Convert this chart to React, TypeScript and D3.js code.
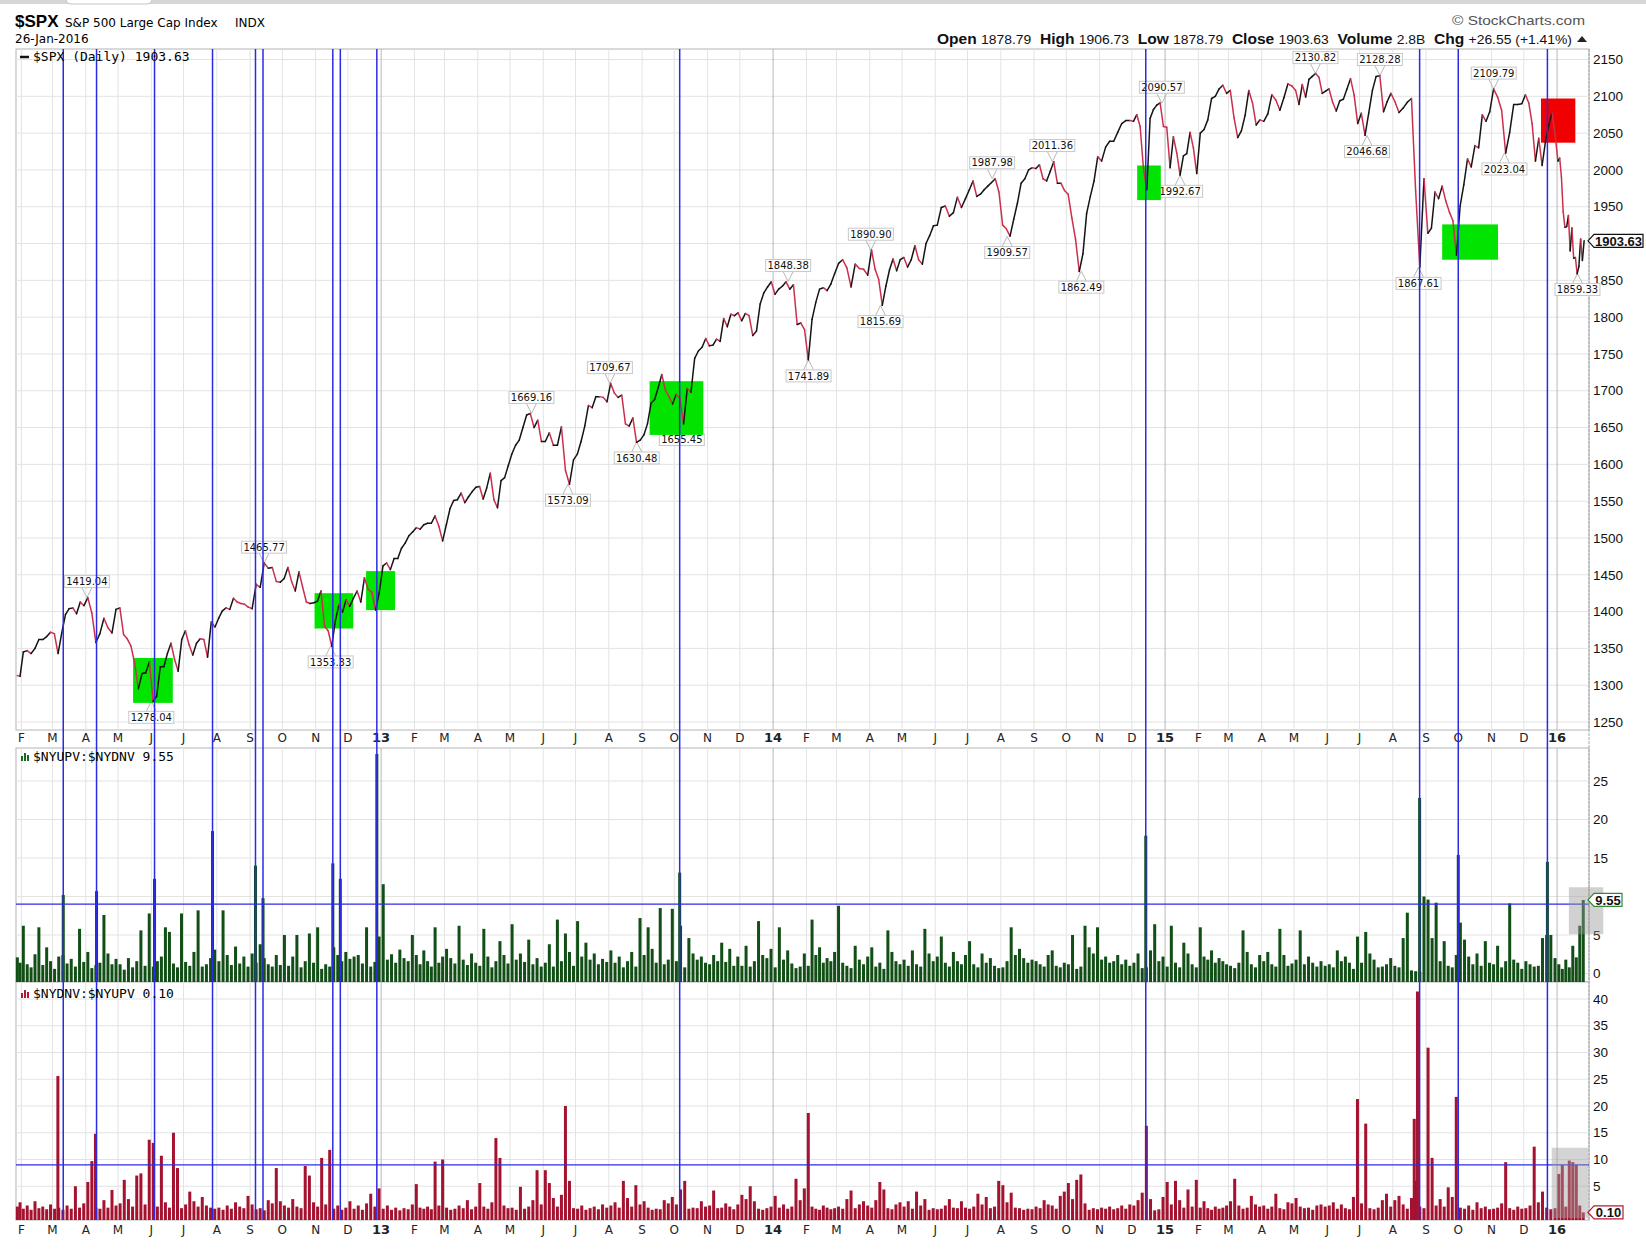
import React, { useEffect, useRef } from 'react';
import * as d3 from 'd3';

const DATA_START = new Date(2012, 0, 27);
const DATA_END = new Date(2016, 0, 27);

// $SPX closes, roughly twice a week, one inner array per calendar month (Jan..Dec)
const spx2012 = [
  [1313, 1312],
  [1345, 1347, 1343, 1350, 1362, 1362, 1366, 1372],
  [1370, 1343, 1371, 1396, 1404, 1405, 1397, 1413, 1408],
  [1419, 1398, 1358, 1370, 1391, 1378, 1371, 1403],
  [1405, 1369, 1363, 1353, 1330, 1295, 1316, 1317, 1332],
  [1278, 1285, 1325, 1325, 1343, 1357, 1335, 1319, 1362],
  [1374, 1355, 1341, 1357, 1363, 1362, 1338, 1386, 1379],
  [1391, 1401, 1405, 1403, 1418, 1413, 1411, 1410, 1406],
  [1404, 1437, 1433, 1466, 1459, 1460, 1441, 1440],
  [1445, 1460, 1441, 1428, 1454, 1433, 1413, 1411, 1412],
  [1414, 1428, 1380, 1374, 1353, 1387, 1409, 1399, 1416],
  [1407, 1418, 1428, 1413, 1446, 1430, 1426, 1402, 1426],
];
const spx2013 = [
  [1462, 1466, 1457, 1472, 1472, 1486, 1493, 1503, 1508],
  [1514, 1512, 1518, 1520, 1520, 1530, 1516, 1496],
  [1518, 1540, 1551, 1552, 1561, 1548, 1556, 1563, 1569],
  [1570, 1553, 1568, 1588, 1552, 1541, 1578, 1582, 1598],
  [1614, 1626, 1633, 1650, 1667, 1669, 1650, 1660, 1631],
  [1631, 1643, 1626, 1626, 1651, 1592, 1573, 1606],
  [1614, 1631, 1652, 1680, 1677, 1692, 1692, 1691, 1685],
  [1710, 1697, 1691, 1694, 1655, 1652, 1663, 1630, 1633],
  [1640, 1655, 1683, 1688, 1704, 1722, 1701, 1692, 1682],
  [1695, 1690, 1655, 1703, 1698, 1744, 1754, 1759, 1771],
  [1761, 1762, 1770, 1767, 1798, 1787, 1804, 1802, 1806],
  [1795, 1805, 1802, 1775, 1781, 1818, 1833, 1841, 1848],
];
const spx2014 = [
  [1831, 1838, 1842, 1848, 1838, 1844, 1790, 1792, 1783],
  [1742, 1797, 1820, 1838, 1840, 1836, 1845, 1859],
  [1873, 1878, 1867, 1841, 1872, 1866, 1865, 1857],
  [1891, 1865, 1851, 1816, 1842, 1864, 1879, 1863, 1878],
  [1881, 1868, 1878, 1897, 1878, 1872, 1900, 1911, 1924],
  [1925, 1949, 1951, 1937, 1942, 1963, 1949, 1961],
  [1973, 1985, 1964, 1967, 1973, 1978, 1983, 1988, 1970],
  [1925, 1920, 1910, 1933, 1955, 1982, 1988, 2000, 2003],
  [2002, 2007, 1988, 1985, 1998, 2011, 1982, 1982, 1972],
  [1967, 1935, 1906, 1862, 1886, 1941, 1964, 1985, 2018],
  [2012, 2031, 2039, 2039, 2051, 2063, 2067, 2067],
  [2066, 2075, 2059, 2002, 1973, 2070, 2082, 2088, 2091, 2059],
];
const spx2015 = [
  [2058, 2003, 2045, 2023, 1993, 2019, 2022, 2051, 2030, 1995],
  [2050, 2055, 2068, 2097, 2100, 2110, 2115, 2104],
  [2108, 2071, 2044, 2053, 2074, 2108, 2091, 2061, 2068],
  [2066, 2076, 2102, 2095, 2081, 2098, 2117, 2114],
  [2108, 2089, 2116, 2099, 2123, 2127, 2131, 2126, 2104, 2107],
  [2110, 2092, 2080, 2094, 2096, 2110, 2124, 2102, 2063],
  [2077, 2047, 2077, 2108, 2127, 2128, 2079, 2093, 2104],
  [2093, 2078, 2084, 2092, 2097, 1971, 1868, 1988],
  [1914, 1921, 1970, 1961, 1978, 1958, 1943, 1931, 1884],
  [1951, 1980, 2015, 2004, 2033, 2030, 2075, 2066, 2079],
  [2110, 2099, 2081, 2023, 2051, 2089, 2089, 2090],
  [2102, 2091, 2063, 2012, 2043, 2006, 2038, 2061, 2078, 2044],
];
const spx2016 = [
  [2012, 2016, 1990, 1943, 1922, 1923, 1938, 1890, 1921, 1880, 1881, 1859, 1869, 1906, 1877, 1903.63],
];

// $NYUPV:$NYDNV ratio, ~8 readings per month
const upRatio2012 = [
  [2.1, 1.4],
  [6.2, 1.2, 0.8, 2.5, 6.0, 1.1, 3.4, 1.6],
  [0.6, 2.2, 2.4, 1.3, 1.9, 0.9, 5.8, 1.5],
  [2.8, 0.7, 1.1, 1.4, 7.6, 2.6, 1.2, 1.9],
  [1.2, 0.5, 2.0, 0.8, 1.6, 5.6, 1.0, 7.8],
  [0.9, 1.6, 2.2, 6.0, 5.4, 1.3, 0.8, 7.8],
  [1.5, 1.0, 2.8, 8.2, 0.9, 1.2, 2.0, 3.1],
  [1.6, 8.2, 2.4, 1.1, 3.5, 1.3, 2.2, 0.9],
  [2.6, 1.4, 3.8, 2.0, 1.2, 0.9, 2.4, 1.1],
  [5.0, 1.0, 2.2, 5.0, 0.8, 1.6, 5.2, 1.4],
  [6.0, 0.6, 1.2, 0.9, 3.4, 2.4, 1.6, 2.8],
  [1.9, 2.2, 2.4, 1.3, 6.0, 0.9, 1.5, 4.8],
];
const upRatio2013 = [
  [11.6, 1.8, 2.5, 1.4, 3.1, 2.0, 1.6, 5.0],
  [2.4, 1.2, 3.0, 1.6, 0.9, 6.0, 1.4, 2.2],
  [3.2, 2.0, 1.3, 6.2, 1.8, 1.1, 2.6, 1.4],
  [1.0, 5.8, 2.2, 0.8, 1.6, 4.2, 2.4, 1.3],
  [6.4, 1.8, 2.6, 1.5, 4.4, 1.2, 2.0, 0.9],
  [1.4, 3.8, 0.9, 7.0, 1.6, 5.2, 2.8, 1.0],
  [6.8, 2.2, 4.0, 1.8, 2.6, 1.2, 1.9, 1.5],
  [3.0, 1.4, 2.2, 0.8, 1.6, 2.8, 0.9, 7.2],
  [2.4, 6.0, 3.2, 1.4, 8.5, 1.2, 1.8, 8.4],
  [1.6, 6.2, 0.8, 4.6, 2.6, 1.8, 2.2, 1.4],
  [1.2, 2.4, 1.6, 4.0, 1.5, 3.2, 1.0, 2.2],
  [1.0, 3.6, 0.9, 1.6, 6.8, 2.4, 2.0, 3.2],
];
const upRatio2014 = [
  [0.8, 6.0, 1.8, 3.0, 1.3, 0.7, 0.9, 2.6],
  [1.0, 7.0, 2.4, 3.4, 1.4, 2.0, 1.6, 2.8],
  [8.8, 1.4, 1.0, 0.7, 3.6, 1.8, 1.2, 2.2],
  [3.4, 0.9, 1.4, 0.6, 5.6, 2.8, 1.6, 1.2],
  [1.8, 1.0, 3.0, 1.2, 0.9, 5.8, 2.6, 1.6],
  [2.2, 4.8, 1.4, 0.9, 2.8, 1.6, 1.2, 2.4],
  [4.2, 1.2, 0.8, 2.6, 1.4, 2.0, 1.0, 0.7],
  [0.8, 1.6, 6.0, 2.4, 3.2, 2.0, 1.4, 1.8],
  [1.6, 1.2, 0.9, 2.4, 3.0, 1.0, 0.8, 1.4],
  [1.2, 5.0, 0.6, 0.9, 6.2, 3.4, 2.6, 6.0],
  [1.8, 2.2, 1.4, 1.6, 2.4, 1.2, 1.8, 1.0],
  [1.4, 2.6, 0.7, 0.8, 3.0, 6.4, 1.6, 2.2],
];
const upRatio2015 = [
  [0.9, 6.2, 1.4, 0.8, 4.0, 2.6, 1.2, 0.8],
  [6.0, 2.2, 1.8, 3.0, 1.4, 2.0, 1.6, 1.2],
  [1.0, 0.7, 1.4, 5.6, 2.8, 1.2, 0.8, 2.4],
  [1.6, 2.8, 1.2, 0.9, 5.8, 2.4, 1.0, 1.3],
  [1.8, 5.6, 1.2, 2.2, 1.4, 0.9, 1.6, 1.0],
  [1.2, 0.8, 3.0, 1.6, 2.2, 1.4, 0.6, 4.8],
  [1.4, 5.4, 2.6, 1.8, 0.8, 0.9, 1.2, 2.0],
  [1.0, 0.8, 4.6, 7.9, 0.4, 0.3, 0.2, 10.0],
  [9.6, 4.6, 9.2, 1.6, 4.2, 1.0, 0.8, 2.4],
  [6.6, 4.4, 2.2, 1.2, 2.6, 1.0, 4.2, 1.4],
  [1.2, 3.6, 0.8, 1.6, 9.1, 1.8, 1.4, 0.6],
  [1.6, 1.2, 0.9, 1.0, 4.6, 5.0, 5.0, 2.0],
];
const upRatio2016 = [[1.2, 0.6, 1.8, 0.8, 3.6, 2.1, 6.2, 9.55]];

// $NYDNV:$NYUPV ratio, ~8 readings per month
const downRatio2012 = [
  [1.2, 2.0],
  [0.8, 1.4, 0.6, 2.2, 0.9, 1.2, 0.7, 1.6],
  [0.8, 1.0, 0.6, 1.4, 0.8, 5.0, 1.0, 1.8],
  [5.8, 9.7, 1.0, 0.8, 2.4, 1.0, 4.3, 1.4],
  [1.8, 6.2, 2.6, 1.2, 7.0, 7.4, 1.6, 13.7],
  [13.1, 1.2, 10.7, 2.0, 1.0, 15.0, 8.4, 0.9],
  [1.6, 4.0, 2.2, 1.2, 3.0, 1.4, 1.0, 0.8],
  [1.0, 0.6, 1.4, 0.8, 2.0, 1.2, 0.9, 3.2],
  [1.6, 0.7, 0.9, 0.5, 2.4, 1.8, 8.4, 2.2],
  [1.4, 1.0, 2.6, 1.2, 0.9, 8.8, 7.0, 2.0],
  [1.2, 10.3, 1.6, 11.8, 0.8, 1.4, 0.6, 1.0],
  [2.2, 0.8, 1.4, 0.6, 1.8, 3.6, 1.2, 4.6],
];
const downRatio2013 = [
  [0.8, 1.4, 0.6, 1.0, 0.5, 0.9, 0.7, 1.6],
  [5.4, 1.0, 0.8, 1.2, 0.7, 9.6, 1.4, 10.0],
  [1.0, 0.6, 0.8, 1.4, 0.9, 2.4, 0.7, 1.2],
  [5.6, 1.2, 0.8, 2.0, 14.0, 10.3, 1.4, 0.9],
  [1.0, 0.6, 4.9, 0.8, 1.2, 2.4, 8.0, 1.6],
  [8.0, 5.6, 2.8, 1.2, 3.4, 20.0, 6.0, 0.9],
  [0.8, 1.4, 0.6, 0.9, 1.2, 0.7, 1.6, 1.0],
  [1.4, 2.0, 1.0, 6.0, 2.8, 1.2, 5.2, 1.6],
  [2.2, 1.0, 0.6, 0.8, 0.7, 2.4, 1.8, 3.0],
  [1.6, 4.4, 6.0, 0.8, 1.0, 0.9, 2.2, 1.2],
  [1.4, 4.2, 0.9, 1.0, 1.8, 1.2, 0.7, 1.6],
  [3.4, 2.6, 5.0, 2.2, 0.8, 0.6, 0.9, 1.2],
];
const downRatio2014 = [
  [3.2, 1.0, 1.6, 0.8, 1.2, 6.4, 2.4, 4.6],
  [18.7, 1.2, 0.8, 0.6, 1.4, 1.0, 0.7, 0.9],
  [1.2, 0.8, 2.6, 4.2, 0.9, 1.6, 2.2, 1.4],
  [1.0, 2.4, 5.8, 4.4, 0.9, 0.7, 1.6, 2.0],
  [1.2, 2.2, 0.8, 4.0, 1.4, 2.6, 0.6, 0.9],
  [0.7, 0.8, 1.4, 2.6, 1.0, 0.9, 2.2, 1.0],
  [0.8, 1.2, 3.6, 1.6, 3.0, 0.9, 1.2, 6.0],
  [5.2, 2.0, 3.8, 1.0, 0.9, 0.6, 0.8, 0.7],
  [1.2, 0.9, 2.4, 1.6, 1.4, 0.8, 3.2, 4.0],
  [5.6, 2.6, 6.2, 7.2, 1.8, 0.6, 0.9, 0.7],
  [1.0, 0.8, 1.2, 0.7, 0.9, 1.4, 0.8, 1.6],
  [1.4, 2.4, 3.8, 16.3, 2.6, 0.5, 0.7, 3.0],
];
const downRatio2015 = [
  [5.8, 1.6, 6.0, 2.4, 1.0, 4.4, 1.2, 6.2],
  [1.0, 2.2, 0.9, 0.6, 1.2, 0.8, 1.0, 1.4],
  [2.2, 6.4, 1.4, 0.8, 1.0, 3.2, 1.6, 1.2],
  [1.4, 0.8, 1.2, 3.6, 0.9, 0.7, 2.0, 1.8],
  [2.8, 1.2, 0.9, 1.0, 0.6, 1.4, 1.6, 1.2],
  [1.4, 2.0, 0.8, 1.6, 0.9, 0.7, 3.0, 21.3],
  [1.8, 16.7, 0.9, 0.7, 1.0, 2.4, 3.6, 1.2],
  [2.4, 3.2, 1.6, 0.8, 2.8, 6.0, 1.2, 0.9],
  [30.9, 10.3, 1.4, 2.6, 1.2, 4.8, 3.0, 21.7],
  [1.0, 0.8, 1.4, 0.6, 2.0, 0.9, 1.2, 0.7],
  [0.8, 1.0, 1.8, 9.5, 0.9, 0.6, 1.2, 0.8],
  [0.9, 1.4, 12.4, 2.0, 4.0, 1.0, 0.7, 0.9],
];
const downRatio2016 = [[7.3, 9.0, 1.2, 9.8, 9.5, 9.0, 1.4, 0.1]];

// signal days (blue verticals) and their up/down volume ratio readings
const signalDates = ['2012-03-11', '2012-04-11', '2012-06-04', '2012-07-28', '2012-09-06', '2012-09-13', '2012-11-17', '2012-11-24', '2012-12-28', '2013-10-06', '2014-12-14', '2015-08-26', '2015-10-01', '2015-12-23'];
const signalUpValues = [10.2, 10.7, 12.3, 18.5, 14.0, 9.8, 14.3, 12.3, 28.5, 13.1, 17.9, 22.8, 15.4, 14.5];
const downSpikeDates = ['2012-03-06', '2012-04-10', '2015-08-21', '2015-08-24'];
const downSpikeValues = [25.6, 14.8, 17.6, 41.4];
const ratioThreshold = 9;

// labelled swing highs / lows
const swingDates = ['2012-04-02', '2012-06-01', '2012-09-14', '2012-11-15', '2013-05-21', '2013-06-24', '2013-08-02', '2013-08-27', '2013-10-08', '2014-01-15', '2014-02-03', '2014-04-02', '2014-04-11', '2014-07-24', '2014-08-07', '2014-09-18', '2014-10-15', '2014-12-29', '2015-01-15', '2015-05-21', '2015-07-08', '2015-07-20', '2015-08-25', '2015-11-03', '2015-11-13', '2016-01-20'];
const swingValues = [1419.04, 1278.04, 1465.77, 1353.33, 1669.16, 1573.09, 1709.67, 1630.48, 1655.45, 1848.38, 1741.89, 1890.90, 1815.69, 1987.98, 1909.57, 2011.36, 1862.49, 2090.57, 1992.67, 2130.82, 2046.68, 2128.28, 1867.61, 2109.79, 2023.04, 1859.33];
const swingIsLow = [false, true, false, true, false, true, false, true, true, false, true, false, true, false, true, false, true, false, true, false, true, false, true, false, true, true];

// highlight boxes: [from, to, low, high]
const greenZones: [string, string, number, number][] = [
  ['2012-05-15', '2012-06-21', 1276, 1337],
  ['2012-10-31', '2012-12-06', 1377, 1425],
  ['2012-12-18', '2013-01-14', 1402, 1455],
  ['2013-09-08', '2013-10-28', 1640, 1713],
  ['2014-12-06', '2014-12-28', 1959, 2006],
  ['2015-09-16', '2015-11-07', 1878, 1926],
];
const redZones: [string, string, number, number][] = [['2015-12-17', '2016-01-18', 2037, 2097]];

const quoteFields = [['Open', '1878.79'], ['High', '1906.73'], ['Low', '1878.79'], ['Close', '1903.63'], ['Volume', '2.8B'], ['Chg', '+26.55 (+1.41%)']];
const lastClose = 1903.63;
const lastUp = 9.55;
const lastDown = 0.1;

type Pt = { date: Date; value: number };

function spreadMonths(year: number, months: number[][]): Pt[] {
  const out: Pt[] = [];
  months.forEach((vals, m) => {
    const a = Math.max(+new Date(year, m, 1), +DATA_START);
    const b = Math.min(+new Date(year, m + 1, 1), +DATA_END);
    vals.forEach((v, i) => out.push({ date: new Date(a + ((b - a) * (i + 0.5)) / vals.length), value: v }));
  });
  return out;
}

export default function App() {
  const ref = useRef<SVGSVGElement>(null);

  useEffect(() => {
    if (!ref.current) return;
    const svg = d3.select(ref.current);
    svg.selectAll('*').remove();

    const parse = d3.timeParse('%Y-%m-%d');
    const W = 1646;
    const left = 16, right = 1589;
    const priceTop = 49, priceBottom = 730;
    const upTop = 748, upBottom = 982;
    const downTop = 982, downBottom = 1220;

    const x = d3.scaleTime().domain([DATA_START, DATA_END]).range([16, 1585]);
    const yPrice = d3.scaleLinear().domain([1250, 2150]).range([722, 59.5]);
    const yUp = d3.scaleLinear().domain([0, 25]).range([973.5, 781]);
    const yDown = d3.scaleLinear().domain([0, 40]).range([1213, 999]);

    const price = [
      ...spreadMonths(2012, spx2012), ...spreadMonths(2013, spx2013), ...spreadMonths(2014, spx2014),
      ...spreadMonths(2015, spx2015), ...spreadMonths(2016, spx2016),
    ];
    const ups = [
      ...spreadMonths(2012, upRatio2012), ...spreadMonths(2013, upRatio2013), ...spreadMonths(2014, upRatio2014),
      ...spreadMonths(2015, upRatio2015), ...spreadMonths(2016, upRatio2016),
    ];
    const downs = [
      ...spreadMonths(2012, downRatio2012), ...spreadMonths(2013, downRatio2013), ...spreadMonths(2014, downRatio2014),
      ...spreadMonths(2015, downRatio2015), ...spreadMonths(2016, downRatio2016),
    ];
    const signals = signalDates.map((d, i) => ({ date: parse(d)!, value: signalUpValues[i] }));
    const downSpikes = downSpikeDates.map((d, i) => ({ date: parse(d)!, value: downSpikeValues[i] }));
    const months = d3.timeMonth.range(new Date(2012, 1, 1), new Date(2016, 1, 1));

    const sans = 'DejaVu Sans, Verdana, sans-serif';
    const arial = 'Liberation Sans, Arial, sans-serif';
    const mono = 'DejaVu Sans Mono, monospace';
    const blue = '#2b2be6';

    // window chrome strip at the very top
    svg.append('rect').attr('x', 0).attr('y', 0).attr('width', W).attr('height', 4).attr('fill', '#d6d6d6');
    svg.append('rect').attr('x', 66).attr('y', -6).attr('width', 86).attr('height', 10).attr('rx', 5)
      .attr('fill', '#fff').attr('stroke', '#c4c4c4');

    // header
    svg.append('text').attr('x', 15).attr('y', 27).attr('font-family', arial).attr('font-weight', 700)
      .attr('font-size', 17).text('$SPX');
    svg.append('text').attr('x', 65).attr('y', 27).attr('font-family', sans).attr('font-size', 12)
      .text('S&P 500 Large Cap Index');
    svg.append('text').attr('x', 235).attr('y', 27).attr('font-family', sans).attr('font-size', 12).text('INDX');
    svg.append('text').attr('x', 15).attr('y', 43).attr('font-family', sans).attr('font-size', 12).text('26-Jan-2016');
    svg.append('text').attr('x', 1585).attr('y', 25).attr('text-anchor', 'end').attr('font-family', arial)
      .attr('font-size', 13).attr('fill', '#555').attr('textLength', 133).attr('lengthAdjust', 'spacingAndGlyphs')
      .text('\u00A9 StockCharts.com');
    const q = svg.append('text').attr('x', 937).attr('y', 44).attr('font-family', arial).attr('fill', '#111')
      .attr('textLength', 635).attr('lengthAdjust', 'spacingAndGlyphs').style('white-space', 'pre');
    quoteFields.forEach(([k, v], i) => {
      q.append('tspan').attr('font-weight', 700).attr('font-size', 14).text((i ? '  ' : '') + k + ' ');
      q.append('tspan').attr('font-size', 12.5).text(v);
    });
    svg.append('path').attr('d', 'M1577,42 L1582,36 L1587,42 Z').attr('fill', '#222');

    // panel backgrounds and grids
    const panels = [
      { top: priceTop, bottom: priceBottom, ticks: d3.range(1250, 2151, 50), y: yPrice },
      { top: upTop, bottom: upBottom, ticks: d3.range(0, 26, 5), y: yUp },
      { top: downTop, bottom: downBottom, ticks: d3.range(0, 41, 5), y: yDown },
    ];
    panels.forEach(p => {
      svg.append('rect').attr('x', left).attr('y', p.top).attr('width', right - left).attr('height', p.bottom - p.top)
        .attr('fill', '#fff').attr('stroke', '#b4b4b4');
      svg.append('g').selectAll('line').data(p.ticks).join('line')
        .attr('x1', left).attr('x2', right).attr('y1', d => p.y(d)).attr('y2', d => p.y(d))
        .attr('stroke', '#e3e3e3');
      svg.append('g').selectAll('line').data(months).join('line')
        .attr('x1', d => x(d)).attr('x2', d => x(d)).attr('y1', p.top).attr('y2', p.bottom)
        .attr('stroke', d => (d.getMonth() === 0 ? '#b8b8b8' : '#e3e3e3'));
    });

    // right axes (labels hidden behind the last-value tags are left out)
    svg.append('line').attr('x1', right).attr('x2', right).attr('y1', priceTop).attr('y2', downBottom)
      .attr('stroke', '#a8a8a8').attr('stroke-dasharray', '3,1');
    const tickLabels = (ticks: number[], y: d3.ScaleLinear<number, number>, tagValue: number) =>
      svg.append('g').selectAll('text').data(ticks.filter(t => Math.abs(y(t) - y(tagValue)) > 11)).join('text')
        .attr('x', right + 4).attr('y', d => y(d)).attr('dy', '0.35em')
        .attr('font-family', arial).attr('font-size', 13.5).attr('fill', '#111').text(d => d);
    tickLabels(d3.range(1250, 2151, 50), yPrice, lastClose);
    tickLabels(d3.range(0, 26, 5), yUp, lastUp);
    tickLabels(d3.range(0, 41, 5), yDown, lastDown);

    // month labels under the price panel and the bottom panel
    [priceBottom + 12, downBottom + 14].forEach(yy => {
      svg.append('g').selectAll('text').data(months).join('text')
        .attr('x', d => x(d)).attr('y', yy).attr('text-anchor', 'middle').attr('font-family', sans)
        .attr('font-size', d => (d.getMonth() === 0 ? 13 : 12))
        .attr('font-weight', d => (d.getMonth() === 0 ? 700 : 400)).attr('fill', '#222')
        .text(d => (d.getMonth() === 0 ? d3.timeFormat('%y')(d) : d3.timeFormat('%b')(d)[0]));
    });

    // swing labels
    const ann = svg.append('g');
    swingDates.forEach((d, i) => {
      const px = x(parse(d)!), py = yPrice(swingValues[i]);
      const low = swingIsLow[i];
      const bw = 45, bh = 12;
      const by = low ? py + 10 : py - 10 - bh;
      const edge = low ? by : by + bh;
      ann.append('path').attr('d', `M${px - 5},${edge} L${px},${py} L${px + 5},${edge}`)
        .attr('fill', 'none').attr('stroke', '#b8b8b8');
      ann.append('rect').attr('x', px - bw / 2).attr('y', by).attr('width', bw).attr('height', bh)
        .attr('fill', '#fff').attr('stroke', '#c8c8c8');
      ann.append('text').attr('x', px).attr('y', by + bh / 2).attr('dy', '0.36em').attr('text-anchor', 'middle')
        .attr('font-family', sans).attr('font-size', 10).attr('fill', '#111').text(swingValues[i].toFixed(2));
    });

    // highlight zones
    const zone = (z: [string, string, number, number], fill: string) =>
      svg.append('rect').attr('x', x(parse(z[0])!)).attr('width', x(parse(z[1])!) - x(parse(z[0])!))
        .attr('y', yPrice(z[3])).attr('height', yPrice(z[2]) - yPrice(z[3])).attr('fill', fill);
    greenZones.forEach(z => zone(z, '#00e400'));
    redZones.forEach(z => zone(z, '#f00000'));

    // price line, black on up moves and red on down moves
    svg.append('g').selectAll('line').data(price.slice(1)).join('line')
      .attr('x1', (_, i) => x(price[i].date)).attr('y1', (_, i) => yPrice(price[i].value))
      .attr('x2', d => x(d.date)).attr('y2', d => yPrice(d.value))
      .attr('stroke', (d, i) => (d.value >= price[i].value ? '#151515' : '#cc2f4c'))
      .attr('stroke-width', 1.5).attr('stroke-linecap', 'round');

    // ratio bars
    const bw = 3;
    const bars = (data: Pt[], y: d3.ScaleLinear<number, number>, base: number, fill: string) =>
      svg.append('g').selectAll('rect').data(data).join('rect')
        .attr('x', d => x(d.date) - bw / 2).attr('width', bw)
        .attr('y', d => y(d.value)).attr('height', d => base - y(d.value)).attr('fill', fill);
    bars(ups, yUp, upBottom, '#124f16');
    bars(signals, yUp, upBottom, '#124f16');
    bars(downs, yDown, downBottom, '#a5122f');
    bars(downSpikes, yDown, downBottom, '#a5122f');

    // signal verticals and thresholds
    svg.append('g').selectAll('line').data(signals).join('line')
      .attr('x1', d => x(d.date)).attr('x2', d => x(d.date)).attr('y1', priceTop).attr('y2', downBottom)
      .attr('stroke', blue).attr('stroke-width', 1.5);
    [yUp(ratioThreshold), yDown(ratioThreshold)].forEach(yy =>
      svg.append('line').attr('x1', left).attr('x2', right).attr('y1', yy).attr('y2', yy)
        .attr('stroke', blue).attr('stroke-width', 1.3));

    // recent-reading shading
    svg.append('rect').attr('x', x(new Date(2016, 0, 12))).attr('width', x(new Date(2016, 1, 13)) - x(new Date(2016, 0, 12)))
      .attr('y', yUp(11.2)).attr('height', yUp(5.1) - yUp(11.2)).attr('fill', '#9a9a9a').attr('opacity', 0.45);
    svg.append('rect').attr('x', x(new Date(2015, 11, 27))).attr('width', x(new Date(2016, 0, 30)) - x(new Date(2015, 11, 27)))
      .attr('y', yDown(12.2)).attr('height', downBottom - 2 - yDown(12.2)).attr('fill', '#a0a0a0').attr('opacity', 0.45);

    // last-value tags on the right axis
    const tag = (yy: number, label: string, stroke: string, w: number) => {
      svg.append('path')
        .attr('d', `M${right - 1},${yy} L${right + 5},${yy - 6.5} L${right + w},${yy - 6.5} L${right + w},${yy + 6.5} L${right + 5},${yy + 6.5} Z`)
        .attr('fill', '#fff').attr('stroke', stroke).attr('stroke-width', 1.2);
      svg.append('text').attr('x', right + 5 + (w - 5) / 2).attr('y', yy).attr('dy', '0.36em').attr('text-anchor', 'middle')
        .attr('font-family', arial).attr('font-weight', 700).attr('font-size', 13).attr('fill', '#111').text(label);
    };
    tag(yPrice(lastClose), lastClose.toFixed(2), '#111', 54);
    tag(yUp(lastUp), lastUp.toFixed(2), '#2f8a2f', 33);
    tag(yDown(lastDown), lastDown.toFixed(2), '#c0142f', 34);

    // panel legends
    svg.append('line').attr('x1', 20).attr('x2', 29).attr('y1', 57).attr('y2', 57).attr('stroke', '#111').attr('stroke-width', 2.5);
    svg.append('text').attr('x', 33).attr('y', 61).attr('font-family', mono).attr('font-size', 13)
      .style('white-space', 'pre').text(`$SPX (Daily) ${lastClose.toFixed(2)}`);
    const legendBars = (yy: number, fill: string) =>
      svg.append('g').selectAll('rect').data([5, 8, 6]).join('rect')
        .attr('x', (_, i) => 21 + i * 3).attr('y', d => yy - d).attr('width', 2).attr('height', d => d).attr('fill', fill);
    legendBars(761, '#1a6b1e');
    svg.append('text').attr('x', 33).attr('y', 761).attr('font-family', mono).attr('font-size', 13)
      .style('white-space', 'pre').text(`$NYUPV:$NYDNV ${lastUp.toFixed(2)}`);
    legendBars(998, '#b01834');
    svg.append('text').attr('x', 33).attr('y', 998).attr('font-family', mono).attr('font-size', 13)
      .style('white-space', 'pre').text(`$NYDNV:$NYUPV ${lastDown.toFixed(2)}`);
  }, []);

  return (
    <svg
      ref={ref}
      width={1646}
      height={1252}
      style={{ position: 'absolute', left: 0, top: 0, background: '#fff', display: 'block' }}
    />
  );
}
